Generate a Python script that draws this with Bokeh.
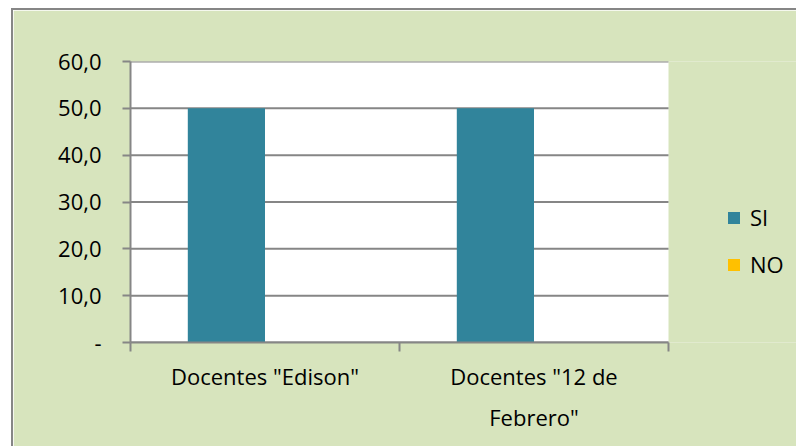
from bokeh.plotting import figure
from bokeh.models import (Range1d, FixedTicker, Legend, LegendItem, LinearAxis,
                          BoxAnnotation, ColumnDataSource)
from bokeh.transform import dodge
from bokeh.embed import file_html
from bokeh.resources import INLINE

# ---- data ----
categories = ['Docentes "Edison"', 'Docentes "12 de Febrero"']
category_labels = ['Docentes "Edison"', 'Docentes "12 de\nFebrero"']
si_values = [50.0, 50.0]
no_values = [0.0, 0.0]
series_names = ["SI", "NO"]
y_ticks = [0, 10, 20, 30, 40, 50, 60]
y_tick_labels = ["-", "10,0", "20,0", "30,0", "40,0", "50,0", "60,0"]

# ---- style ----
BG = "#D7E4BD"
GRAY = "#868686"
COLORS = ["#31849B", "#FFC000"]
FONT = "Open Sans"
FS = "22px"
BAR_W = 0.287
PLOT_PX = 538          # width of the white plotting area in px
FRAME_PX = 668         # frame incl. legend area

n = len(categories)
centers = [i + 0.5 for i in range(n)]
bounds = [float(i) for i in range(n + 1)]
y_min, y_max = y_ticks[0], y_ticks[-1]

src = ColumnDataSource(dict(x=centers, si=si_values, no=no_values))

p = figure(width=785, height=438,
           x_range=Range1d(0, n * FRAME_PX / PLOT_PX), y_range=Range1d(y_min, y_max),
           x_axis_type=None, y_axis_type=None,
           output_backend="svg", toolbar_location=None,
           min_border_left=117, min_border_right=0,
           min_border_top=51, min_border_bottom=106,
           background_fill_color=BG, border_fill_color=BG,
           outline_line_color=None)
p.margin = (8, 0, 0, 11)
p.styles = {"border-left": f"2px solid {GRAY}", "border-top": f"2px solid {GRAY}"}

# white plotting area
p.add_layout(BoxAnnotation(left=0, right=n, bottom=y_min, top=y_max,
                           fill_color="white", fill_alpha=1.0, line_color=None,
                           level="underlay"))

# horizontal gridlines over the plotting area only
p.segment(x0=[0] * len(y_ticks), x1=[n] * len(y_ticks), y0=y_ticks, y1=y_ticks,
          line_color=GRAY, line_width=2)

r_si = p.vbar(x=dodge("x", -BAR_W / 2, range=p.x_range), top="si", width=BAR_W,
              source=src, fill_color=COLORS[0], line_color=None)
r_no = p.vbar(x=dodge("x", BAR_W / 2, range=p.x_range), top="no", width=BAR_W,
              source=src, fill_color=COLORS[1], line_color=None)

# y axis
yax = LinearAxis(ticker=FixedTicker(ticks=y_ticks),
                 major_label_overrides={t: l for t, l in zip(y_ticks, y_tick_labels)},
                 axis_line_color=GRAY, axis_line_width=2,
                 major_tick_line_color=GRAY, major_tick_line_width=2,
                 major_tick_out=8, major_tick_in=0,
                 minor_tick_line_color=None,
                 major_label_standoff=21,
                 major_label_text_font=FONT, major_label_text_font_size=FS,
                 major_label_text_color="black")
p.add_layout(yax, "left")

# x axis: labels at category centres, ticks at category boundaries
xax = LinearAxis(ticker=FixedTicker(ticks=centers, minor_ticks=bounds),
                 bounds=(0, n),
                 major_label_overrides={c: l for c, l in zip(centers, category_labels)},
                 axis_line_color=GRAY, axis_line_width=2,
                 major_tick_line_color=None, major_tick_out=0, major_tick_in=0,
                 minor_tick_line_color=GRAY, minor_tick_line_width=2,
                 minor_tick_out=9, minor_tick_in=0,
                 major_label_standoff=9,
                 major_label_text_font=FONT, major_label_text_font_size=FS,
                 major_label_text_color="black",
                 major_label_text_line_height=1.38)
p.add_layout(xax, "below")

legend = Legend(items=[LegendItem(label=series_names[0], renderers=[r_si]),
                       LegendItem(label=series_names[1], renderers=[r_no])],
                location=(596, 63), orientation="vertical",
                glyph_width=15, glyph_height=15, label_standoff=9,
                spacing=17, padding=0, margin=0,
                border_line_color=None, background_fill_alpha=0,
                label_text_font=FONT, label_text_font_size=FS,
                label_text_color="black")
p.add_layout(legend)

open("out.html", "w").write(file_html(p, INLINE))
